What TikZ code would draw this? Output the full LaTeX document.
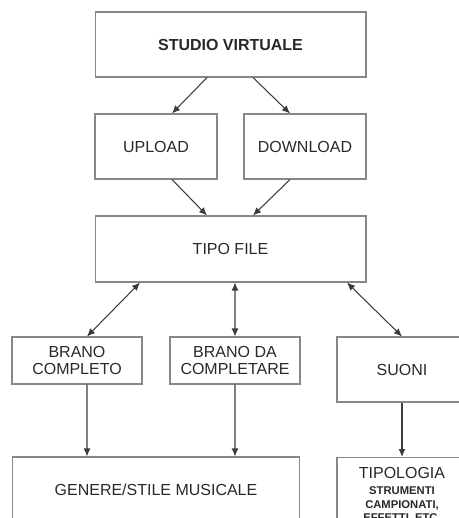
\documentclass[tikz,border=0pt]{standalone}
\usepackage{fontspec}
\setmainfont{Liberation Sans}
\usetikzlibrary{arrows.meta}

\definecolor{boxgray}{RGB}{135,135,135}
\definecolor{linegray}{RGB}{60,60,60}
\definecolor{textgray}{RGB}{40,40,40}

\newcommand{\smalltxt}{\fontsize{6.4}{7}\selectfont\bfseries}

\tikzset{
  box/.style={draw=boxgray, line width=0.6pt, inner sep=0pt, align=center,
    text=textgray, font=\fontsize{9.1}{10.2}\selectfont},
  conn/.style={draw=linegray, line width=0.6pt, -{Latex[length=1.6mm,width=1.4mm]}},
  biconn/.style={conn, {Latex[length=1.6mm,width=1.4mm]}-{Latex[length=1.6mm,width=1.4mm]}}
}

\begin{document}
\begin{tikzpicture}[x=0.02cm,y=-0.02cm]
      \useasboundingbox (0,0) rectangle (459,518);
      \clip (0,0) rectangle (459,518);
      % 上部
      \node[box, minimum width=5.42cm, minimum height=1.3cm] (studio) at (230.5,44.5) {\textbf{STUDIO VIRTUALE}};
      \node[box, minimum width=2.44cm, minimum height=1.3cm] (upload) at (156,146.5) {UPLOAD};
      \node[box, minimum width=2.44cm, minimum height=1.3cm] (download) at (305,146.5) {DOWNLOAD};
      \node[box, minimum width=5.42cm, minimum height=1.32cm] (tipo) at (230.5,249) {TIPO FILE};

      % 中部
      \node[box, minimum width=2.6cm, minimum height=0.94cm] (completo) at (77,360.5) {BRANO\\COMPLETO};
      \node[box, minimum width=2.6cm, minimum height=0.94cm] (completare) at (235,360.5) {BRANO DA\\COMPLETARE};
      \node[box, minimum width=2.6cm, minimum height=1.3cm] (suoni) at (402,369.5) {SUONI};

      % 下部
      \node[box, minimum width=5.76cm, minimum height=1.32cm] (genere) at (156,490) {GENERE/STILE MUSICALE};
      \node[box, minimum width=2.6cm, minimum height=1.3cm, inner ysep=0.2cm, anchor=north] (tipologia) at (402,457)
        {TIPOLOGIA\\[-1pt]\smalltxt STRUMENTI\\[-2.5pt]\smalltxt CAMPIONATI,\\[-2.5pt]\smalltxt EFFETTI, ETC.};

      % 箭头
      \draw[conn] ([xshift=-0.47cm]studio.south) -- ([xshift=0.32cm]upload.north);
      \draw[conn] ([xshift=0.45cm]studio.south) -- ([xshift=-0.3cm]download.north);
      \draw[conn] ([xshift=0.32cm]upload.south) -- ([xshift=-0.47cm]tipo.north);
      \draw[conn] ([xshift=-0.3cm]download.south) -- ([xshift=0.45cm]tipo.north);
      \draw[biconn] ([xshift=-1.81cm]tipo.south) -- ([xshift=0.2cm]completo.north);
      \draw[biconn] ([xshift=0.09cm]tipo.south) -- (completare.north);
      \draw[biconn] ([xshift=2.33cm]tipo.south) -- (suoni.north);
      \draw[conn] ([xshift=0.2cm]completo.south) -- ([xshift=-1.38cm]genere.north);
      \draw[conn] (completare.south) -- ([xshift=1.58cm]genere.north);
      \draw[conn] (suoni.south) -- (tipologia.north);
\end{tikzpicture}
\end{document}
